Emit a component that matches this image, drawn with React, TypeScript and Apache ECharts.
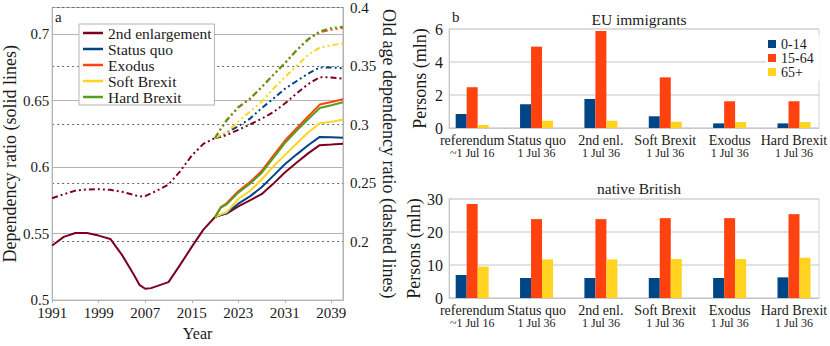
import React, { useEffect, useRef } from "react";
import * as echarts from "echarts";

// ---------- Panel a data ----------
const histYears = [1991, 1993, 1995, 1997, 1999, 2001, 2003, 2005, 2006, 2007, 2008, 2009, 2011, 2013, 2015, 2017, 2019];
const histSolid = [0.541, 0.5475, 0.5505, 0.5505, 0.5485, 0.546, 0.534, 0.5195, 0.5115, 0.5085, 0.509, 0.5105, 0.5135, 0.5265, 0.54, 0.553, 0.5625];
const histDashed = [0.237, 0.2405, 0.2435, 0.2445, 0.2448, 0.2442, 0.2425, 0.24, 0.2385, 0.2388, 0.2412, 0.2435, 0.2487, 0.26, 0.2735, 0.2835, 0.2885];

const scenYears = [2019, 2020, 2021, 2023, 2025, 2027, 2029, 2031, 2033, 2035, 2037, 2039, 2041];
const scenarioNames = ["2nd enlargement", "Status quo", "Exodus", "Soft Brexit", "Hard Brexit"];
const scenarioColors = ["#7e0021", "#004586", "#ff420e", "#ffd320", "#579d1c"];

const solidEnl = [0.5625, 0.564, 0.565, 0.5705, 0.575, 0.5796, 0.5874, 0.596, 0.6033, 0.6103, 0.6165, 0.617, 0.6176];
const solidStatus = [0.5625, 0.564, 0.5655, 0.5725, 0.578, 0.5848, 0.5934, 0.6021, 0.6094, 0.6164, 0.6227, 0.6225, 0.622];
const solidExodus = [0.5625, 0.57, 0.5728, 0.5818, 0.5887, 0.597, 0.6085, 0.6198, 0.629, 0.638, 0.647, 0.649, 0.651];
const solidSoft = [0.5625, 0.5645, 0.566, 0.576, 0.582, 0.5905, 0.6005, 0.609, 0.6175, 0.626, 0.633, 0.634, 0.6358];
const solidHard = [0.5625, 0.5695, 0.572, 0.5808, 0.5875, 0.5956, 0.6068, 0.618, 0.6273, 0.636, 0.6445, 0.6465, 0.6487];

const dashEnl = [0.2885, 0.2895, 0.291, 0.2955, 0.3, 0.305, 0.3105, 0.318, 0.3265, 0.3345, 0.3405, 0.3402, 0.3393];
const dashStatus = [0.2885, 0.29, 0.2935, 0.2985, 0.305, 0.314, 0.322, 0.3305, 0.337, 0.3435, 0.3488, 0.3487, 0.3481];
const dashExodus = [0.2885, 0.2965, 0.3035, 0.3145, 0.3218, 0.3318, 0.3422, 0.3522, 0.3632, 0.3725, 0.379, 0.381, 0.3826];
const dashSoft = [0.2885, 0.291, 0.2935, 0.3025, 0.311, 0.3195, 0.3305, 0.3405, 0.35, 0.3595, 0.3657, 0.3677, 0.3694];
const dashHard = [0.2885, 0.2965, 0.304, 0.315, 0.3221, 0.332, 0.3425, 0.3525, 0.3635, 0.373, 0.3797, 0.3825, 0.3836];

const solidSets = [solidEnl, solidStatus, solidExodus, solidSoft, solidHard];
const dashSets = [dashEnl, dashStatus, dashExodus, dashSoft, dashHard];

// ---------- Panel b data ----------
const barCategories = ["referendum", "Status quo", "2nd enl.", "Soft Brexit", "Exodus", "Hard Brexit"];
const barDates = ["~1 Jul 16", "1 Jul 36", "1 Jul 36", "1 Jul 36", "1 Jul 36", "1 Jul 36"];
const ageGroups = ["0-14", "15-64", "65+"];
const ageColors = ["#004586", "#ff420e", "#ffd320"];

const euAge0 = [0.85, 1.44, 1.76, 0.71, 0.28, 0.28];
const euAge15 = [2.47, 4.93, 5.88, 3.07, 1.62, 1.62];
const euAge65 = [0.18, 0.44, 0.44, 0.38, 0.36, 0.36];

const brAge0 = [6.97, 6.06, 6.06, 6.06, 6.06, 6.26];
const brAge15 = [28.5, 23.9, 23.9, 24.2, 24.2, 25.4];
const brAge65 = [9.5, 11.7, 11.7, 11.8, 11.8, 12.2];

const euSets = [euAge0, euAge15, euAge65];
const brSets = [brAge0, brAge15, brAge65];

const FONT = "Liberation Serif";
const TXT = "#1a1a1a";
const DASH = [6, 3, 2, 3, 2, 3];

function ts(size: number, extra: any = {}) {
  return { fontSize: size, fontFamily: FONT, color: TXT, fontWeight: "normal", ...extra };
}

function buildOption() {
  const series: any[] = [];
  series.push({
    name: "hist solid",
    type: "line",
    xAxisIndex: 0,
    yAxisIndex: 0,
    symbol: "none",
    data: histYears.map((y, i) => [y, histSolid[i]]),
    lineStyle: { color: scenarioColors[0], width: 2 },
    itemStyle: { color: scenarioColors[0] },
  });
  series.push({
    name: "hist dashed",
    type: "line",
    xAxisIndex: 0,
    yAxisIndex: 1,
    symbol: "none",
    data: histYears.map((y, i) => [y, histDashed[i]]),
    lineStyle: { color: scenarioColors[0], width: 2, type: DASH },
    itemStyle: { color: scenarioColors[0] },
  });
  scenarioNames.forEach((n, k) => {
    series.push({
      name: n,
      type: "line",
      xAxisIndex: 0,
      yAxisIndex: 1,
      symbol: "none",
      data: scenYears.map((y, i) => [y, dashSets[k][i]]),
      lineStyle: { color: scenarioColors[k], width: 2, type: DASH },
      itemStyle: { color: scenarioColors[k] },
    });
  });
  scenarioNames.forEach((n, k) => {
    series.push({
      name: n,
      type: "line",
      xAxisIndex: 0,
      yAxisIndex: 0,
      symbol: "none",
      data: scenYears.map((y, i) => [y, solidSets[k][i]]),
      lineStyle: { color: scenarioColors[k], width: 2 },
      itemStyle: { color: scenarioColors[k] },
    });
  });
  ageGroups.forEach((g, k) => {
    series.push({
      name: g,
      type: "bar",
      xAxisIndex: 2,
      yAxisIndex: 3,
      barWidth: 11,
      barGap: "0%",
      data: euSets[k],
      itemStyle: { color: ageColors[k] },
    });
    series.push({
      name: g,
      type: "bar",
      xAxisIndex: 4,
      yAxisIndex: 5,
      barWidth: 11,
      barGap: "0%",
      data: brSets[k],
      itemStyle: { color: ageColors[k] },
    });
  });

  const fmt = (v: number) => String(Math.round(v * 100) / 100);
  const catLabel = {
    interval: 0,
    margin: 5,
    ...ts(14),
    formatter: (v: string, i: number) => `{a|${v}}\n{b|${barDates[i]}}`,
    rich: {
      a: ts(14, { lineHeight: 14 }),
      b: ts(12, { lineHeight: 12 }),
    },
  };
  const frameX = (gi: number) => ({
    gridIndex: gi,
    type: "value",
    min: 0,
    max: 1,
    axisLine: { show: true, lineStyle: { color: "#c8c8c8", width: 1 } },
    axisTick: { show: false },
    axisLabel: { show: false },
    splitLine: { show: false },
  });
  const barX = (gi: number) => ({
    gridIndex: gi,
    type: "category",
    data: barCategories,
    boundaryGap: true,
    axisLine: { show: false },
    axisTick: { show: false },
    axisLabel: catLabel,
  });
  const frameY = (gi: number, max: number, interval: number) => ({
    gridIndex: gi,
    type: "value",
    min: 0,
    max,
    interval,
    name: "Persons (mln)",
    nameLocation: "middle",
    nameGap: 20,
    nameTextStyle: ts(18),
    axisLine: { show: true, lineStyle: { color: "#c8c8c8" } },
    axisTick: { show: false },
    axisLabel: { ...ts(16), margin: 6 },
    splitLine: { show: true, lineStyle: { color: "#d9d9d9", width: 1.5 } },
  });
  const hiddenY = (gi: number, max: number) => ({
    gridIndex: gi,
    type: "value",
    min: 0,
    max,
    show: false,
  });

  return {
    animation: false,
    backgroundColor: "#ffffff",
    textStyle: { fontFamily: FONT, color: TXT },
    title: [
      { text: "a", left: 50, top: 4, textStyle: ts(15) },
      { text: "b", left: 447, top: 4, textStyle: ts(15) },
      { text: "EU immigrants", left: 634, top: 6, textAlign: "center", textStyle: ts(15.5) },
      { text: "native British", left: 634, top: 175, textAlign: "center", textStyle: ts(15.5) },
    ],
    legend: [
      {
        data: scenarioNames,
        orient: "vertical",
        left: 79,
        top: 24,
        icon: "rect",
        itemWidth: 20,
        itemHeight: 2.5,
        itemGap: 0,
        padding: [1, 3, 0, 4],
        borderColor: "#b3b3b3",
        borderWidth: 1,
        backgroundColor: "#ffffff",
        textStyle: ts(15.5, { lineHeight: 14.3 }),
      },
      {
        data: ageGroups,
        orient: "vertical",
        left: 766,
        top: 35,
        icon: "rect",
        itemWidth: 8,
        itemHeight: 8,
        itemGap: 0,
        padding: [2, 6, 2, 2],
        backgroundColor: "#ffffff",
        textStyle: ts(14, { lineHeight: 12.9 }),
      },
    ],
    grid: [
      { left: 48, top: 7, width: 295, height: 303, show: true, borderColor: "#b3b3b3", borderWidth: 1, backgroundColor: "transparent" },
      { left: 449, top: 29, width: 370, height: 99, show: true, borderColor: "#d0d0d0", borderWidth: 1, backgroundColor: "transparent" },
      { left: 440, top: 29, width: 389, height: 99 },
      { left: 449, top: 199, width: 370, height: 99, show: true, borderColor: "#d0d0d0", borderWidth: 1, backgroundColor: "transparent" },
      { left: 440, top: 199, width: 389, height: 99 },
    ],
    xAxis: [
      {
        gridIndex: 0,
        type: "value",
        min: 1991,
        max: 2041,
        interval: 8,
        name: "Year",
        nameLocation: "middle",
        nameGap: 21,
        nameTextStyle: ts(16),
        axisLine: { show: true, lineStyle: { color: "#b3b3b3" } },
        axisTick: { show: true, length: 3, lineStyle: { color: "#b3b3b3" } },
        axisLabel: { ...ts(15), margin: 5, showMaxLabel: false, formatter: (v: number) => String(Math.round(v)) },
        splitLine: { show: false },
      },
      frameX(1),
      barX(2),
      frameX(3),
      barX(4),
    ],
    yAxis: [
      {
        gridIndex: 0,
        type: "value",
        min: 0.5,
        max: 0.72,
        interval: 0.05,
        position: "left",
        name: "Dependency ratio (solid lines)",
        nameLocation: "middle",
        nameGap: 32,
        nameTextStyle: ts(18),
        axisLine: { show: true, lineStyle: { color: "#b3b3b3" } },
        axisTick: { show: false },
        axisLabel: { ...ts(15), margin: 3, showMaxLabel: false, formatter: fmt },
        splitLine: { show: true, lineStyle: { color: "#b3b3b3", width: 1 } },
      },
      {
        gridIndex: 0,
        type: "value",
        min: 0.15,
        max: 0.4,
        interval: 0.05,
        position: "right",
        name: "Old age dependency ratio (dashed lines)",
        nameLocation: "middle",
        nameGap: 34,
        nameRotate: -90,
        nameTextStyle: ts(18),
        axisLine: { show: true, lineStyle: { color: "#b3b3b3" } },
        axisTick: { show: false },
        axisLabel: { ...ts(15), margin: 7, showMinLabel: false, formatter: fmt },
        splitLine: { show: true, lineStyle: { color: "#666666", width: 1, type: [2, 3] } },
      },
      frameY(1, 6, 2),
      hiddenY(2, 6),
      frameY(3, 30, 10),
      hiddenY(4, 30),
    ],
    series,
  };
}

export default function App() {
  const ref = useRef<HTMLDivElement>(null);
  useEffect(() => {
    document.body.style.margin = "0";
    const chart = echarts.init(ref.current!, null, { renderer: "svg" });
    chart.setOption(buildOption() as any);
    return () => chart.dispose();
  }, []);
  return <div ref={ref} style={{ width: 830, height: 346 }} />;
}
